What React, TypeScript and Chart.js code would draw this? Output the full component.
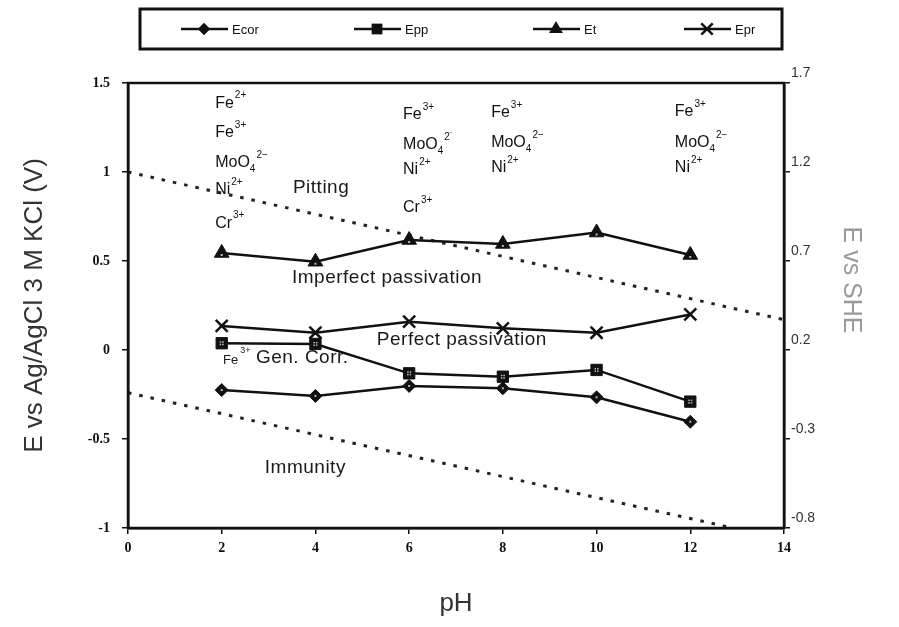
import React, { useEffect, useRef } from "react";
import { Chart, registerables } from "chart.js";
Chart.register(...registerables);

// ---- data ----
const phValues = [2, 4, 6, 8, 10, 12];
const ecorValues = [-0.225, -0.258, -0.202, -0.215, -0.266, -0.403];
const eppValues = [0.038, 0.034, -0.131, -0.15, -0.112, -0.29];
const etValues = [0.545, 0.496, 0.618, 0.596, 0.66, 0.534];
const eprValues = [0.135, 0.097, 0.159, 0.122, 0.097, 0.2];
const seriesLabels = ["Ecor", "Epp", "Et", "Epr"];

const oxygenLinePh = [0, 14];
const oxygenLineE = [1.0, 0.17];
const hydrogenLinePh = [0, 12.9];
const hydrogenLineE = [-0.24, -1.0];

const xTickValues = [0, 2, 4, 6, 8, 10, 12, 14];
const leftTickValues = [-1, -0.5, 0, 0.5, 1, 1.5];
const rightTickValues = [-0.8, -0.3, 0.2, 0.7, 1.2, 1.7];

// species annotations (pH, E position, text parts)
const speciesPh = [1.86, 1.86, 1.86, 1.86, 1.86, 5.87, 5.87, 5.87, 5.87, 7.75, 7.75, 7.75, 11.67, 11.67, 11.67];
const speciesE = [1.385, 1.219, 1.051, 0.9, 0.712, 1.32, 1.152, 1.011, 0.798, 1.331, 1.163, 1.022, 1.337, 1.163, 1.022];
const speciesBase = ["Fe", "Fe", "MoO", "Ni", "Cr", "Fe", "MoO", "Ni", "Cr", "Fe", "MoO", "Ni", "Fe", "MoO", "Ni"];
const speciesSub = ["", "", "4", "", "", "", "4", "", "", "", "4", "", "", "4", ""];
const speciesSup = ["2+", "3+", "2\u2212", "2+", "3+", "3+", "2\u02D9", "2+", "3+", "3+", "2\u2212", "2+", "3+", "2\u2212", "2+"];

const regionText = ["Pitting", "Imperfect passivation", "Perfect passivation", "Gen. Corr.", "Immunity"];
const regionPh = [3.52, 3.5, 5.31, 2.73, 2.92];
const regionE = [0.91, 0.404, 0.056, -0.045, -0.663];
const smallFePh = 2.03;
const smallFeE = -0.056;

const styles = ["rectRot", "rect", "triangle", "crossRot"];
const radii = [6.5, 8, 8.5, 8.5];

function drawMarker(ctx: CanvasRenderingContext2D, style: string, x: number, y: number, r: number) {
  ctx.beginPath();
  if (style === "rectRot") {
    ctx.moveTo(x, y - r); ctx.lineTo(x + r, y); ctx.lineTo(x, y + r); ctx.lineTo(x - r, y); ctx.closePath();
    ctx.fill();
  } else if (style === "rect") {
    const s = r * Math.SQRT1_2;
    ctx.rect(x - s, y - s, 2 * s, 2 * s); ctx.fill();
  } else if (style === "triangle") {
    ctx.moveTo(x, y - r);
    ctx.lineTo(x + r * Math.sin(2 * Math.PI / 3), y - r * Math.cos(2 * Math.PI / 3));
    ctx.lineTo(x + r * Math.sin(4 * Math.PI / 3), y - r * Math.cos(4 * Math.PI / 3));
    ctx.closePath(); ctx.fill();
  } else {
    const s = r * Math.SQRT1_2;
    ctx.moveTo(x - s, y - s); ctx.lineTo(x + s, y + s);
    ctx.moveTo(x + s, y - s); ctx.lineTo(x - s, y + s);
    ctx.stroke();
  }
}

const overlayPlugin = {
  id: "overlay",
  afterDatasetsDraw(chart: any) {
    const ctx: CanvasRenderingContext2D = chart.ctx;
    ctx.save();
    ctx.fillStyle = "#bbb";
    for (let d = 0; d < 3; d++) {
      const meta = chart.getDatasetMeta(d);
      meta.data.forEach((p: any) => {
        if (d === 1) {
          ctx.fillRect(p.x - 2, p.y - 2, 1.5, 1.5);
          ctx.fillRect(p.x + 0.5, p.y - 2, 1.5, 1.5);
          ctx.fillRect(p.x - 2, p.y + 0.5, 1.5, 1.5);
          ctx.fillRect(p.x + 0.5, p.y + 0.5, 1.5, 1.5);
        } else {
          ctx.fillRect(p.x - 1, p.y + (d === 2 ? 1 : -1), 2, 2);
        }
      });
    }
    ctx.restore();
  },
  afterDraw(chart: any) {
    const ctx: any = chart.ctx;
    const { chartArea } = chart;
    const xs = chart.scales.x;
    const ys = chart.scales.y;
    ctx.save();
    // plot frame
    ctx.strokeStyle = "#111";
    ctx.lineWidth = 2.5;
    ctx.strokeRect(chartArea.left, chartArea.top, chartArea.right - chartArea.left, chartArea.bottom - chartArea.top);

    // species labels
    ctx.fillStyle = "#111";
    ctx.textBaseline = "middle";
    ctx.textAlign = "left";
    for (let i = 0; i < speciesBase.length; i++) {
      const px = xs.getPixelForValue(speciesPh[i]);
      const py = ys.getPixelForValue(speciesE[i]);
      ctx.font = "16px Arial";
      ctx.fillText(speciesBase[i], px, py);
      let w = ctx.measureText(speciesBase[i]).width;
      ctx.font = "10px Arial";
      if (speciesSub[i]) {
        ctx.fillText(speciesSub[i], px + w, py + 6);
        w += ctx.measureText(speciesSub[i]).width + 1;
      } else {
        w += 1;
      }
      ctx.fillText(speciesSup[i], px + w, py - 8);
    }

    // region labels
    ctx.fillStyle = "#1a1a1a";
    ctx.font = "19px Arial";
    ctx.letterSpacing = "0.5px";
    for (let i = 0; i < regionText.length; i++) {
      ctx.fillText(regionText[i], xs.getPixelForValue(regionPh[i]), ys.getPixelForValue(regionE[i]));
    }
    ctx.letterSpacing = "0px";
    const fx = xs.getPixelForValue(smallFePh);
    const fy = ys.getPixelForValue(smallFeE);
    ctx.font = "13px Arial";
    ctx.fillText("Fe", fx, fy);
    const fw = ctx.measureText("Fe").width;
    ctx.font = "9px Arial";
    ctx.fillText("3+", fx + fw + 2, fy - 9);

    // legend
    ctx.strokeStyle = "#111";
    ctx.lineWidth = 3;
    ctx.strokeRect(140, 9, 642, 40);
    const legendX = [204, 377, 556, 707];
    const ly = 29;
    ctx.font = "13px Arial";
    for (let i = 0; i < seriesLabels.length; i++) {
      const cx = legendX[i];
      ctx.strokeStyle = "#111";
      ctx.fillStyle = "#111";
      ctx.lineWidth = 2.5;
      ctx.beginPath();
      ctx.moveTo(cx - 23, ly); ctx.lineTo(cx + 24, ly); ctx.stroke();
      drawMarker(ctx, styles[i], cx, ly, radii[i] * 0.95);
      ctx.fillText(seriesLabels[i], cx + 28, ly + 1);
    }

    // right axis title
    ctx.save();
    ctx.translate(851, 280);
    ctx.rotate(Math.PI / 2);
    ctx.textAlign = "center";
    ctx.fillStyle = "#9a9a9a";
    ctx.font = "25px Arial";
    ctx.fillText("E vs SHE", 0, 0);
    ctx.restore();
    ctx.restore();
  },
};

export default function App() {
  const ref = useRef<HTMLCanvasElement | null>(null);
  useEffect(() => {
    if (!ref.current) return;
    const pts = (xs: number[], ys: number[]) => xs.map((x, i) => ({ x, y: ys[i] }));
    const seriesValues = [ecorValues, eppValues, etValues, eprValues];
    const seriesSets = seriesLabels.map((label, i) => ({
      label,
      data: pts(phValues, seriesValues[i]),
      borderColor: "#111",
      backgroundColor: "#111",
      borderWidth: 2.5,
      pointStyle: styles[i],
      pointRadius: radii[i],
      pointBorderWidth: i === 3 ? 2.5 : 1,
      pointBorderColor: "#111",
      pointBackgroundColor: "#111",
      tension: 0,
      fill: false,
    }));
    const dotted = (xs: number[], ys: number[]) => ({
      label: "",
      data: pts(xs, ys),
      borderColor: "#222",
      borderWidth: 3,
      borderDash: [3.5, 8],
      pointRadius: 0,
      tension: 0,
      fill: false,
    });
    const axisFont = { family: '"Liberation Serif", "Times New Roman", serif', size: 14, weight: "bold" as const };
    const chart = new Chart(ref.current, {
      type: "line",
      data: {
        datasets: [...seriesSets, dotted(oxygenLinePh, oxygenLineE), dotted(hydrogenLinePh, hydrogenLineE)] as any,
      },
      plugins: [overlayPlugin],
      options: {
        animation: false,
        responsive: false,
        devicePixelRatio: 1,
        layout: { padding: { top: 83, left: 0, right: 0, bottom: 0 } },
        plugins: { legend: { display: false }, tooltip: { enabled: false } },
        scales: {
          x: {
            type: "linear",
            position: "bottom",
            min: 0,
            max: 14,
            afterBuildTicks: (s: any) => { s.ticks = xTickValues.map((v) => ({ value: v })); },
            afterFit: (s: any) => { s.height = 99; },
            ticks: { font: axisFont, color: "#111", padding: 6, maxRotation: 0, autoSkip: false, callback: (v: any) => String(v) },
            grid: { drawOnChartArea: false, drawTicks: true, tickLength: 6, color: "#111", lineWidth: 1.5 },
            border: { display: true, color: "#111", width: 2.5 },
            title: { display: true, text: "pH", font: { family: "Arial", size: 26 }, color: "#333", padding: { top: 0, bottom: 8 } },
          },
          y: {
            type: "linear",
            position: "left",
            min: -1,
            max: 1.5,
            afterBuildTicks: (s: any) => { s.ticks = leftTickValues.map((v) => ({ value: v })); },
            afterFit: (s: any) => { s.width = 128; },
            ticks: { font: axisFont, color: "#111", padding: 12, autoSkip: false, callback: (v: any) => String(v) },
            grid: { drawOnChartArea: false, drawTicks: true, tickLength: 6, color: "#111", lineWidth: 1.5 },
            border: { display: true, color: "#111", width: 2.5 },
            title: { display: true, text: "E vs Ag/AgCl 3 M KCl (V)", font: { family: "Arial", size: 26 }, color: "#333", padding: { top: 19, bottom: 0 } },
          },
          y2: {
            type: "linear",
            position: "right",
            min: -0.8,
            max: 1.7,
            afterBuildTicks: (s: any) => { s.ticks = rightTickValues.map((v) => ({ value: v })); },
            afterFit: (s: any) => { s.width = 115; },
            ticks: {
              font: { family: "Arial", size: 14 },
              color: "#333",
              padding: 1,
              labelOffset: -10,
              autoSkip: false,
              callback: (v: any) => Number(v).toFixed(1),
            },
            grid: { drawOnChartArea: false, drawTicks: true, tickLength: 6, color: "#111", lineWidth: 1.5 },
            border: { display: true, color: "#111", width: 2.5 },
          },
        },
      } as any,
    });
    return () => chart.destroy();
  }, []);
  return (
    <div style={{ position: "absolute", left: 0, top: 0, width: 899, height: 627, background: "#fff" }}>
      <canvas ref={ref} width={899} height={627} style={{ display: "block" }} />
    </div>
  );
}
